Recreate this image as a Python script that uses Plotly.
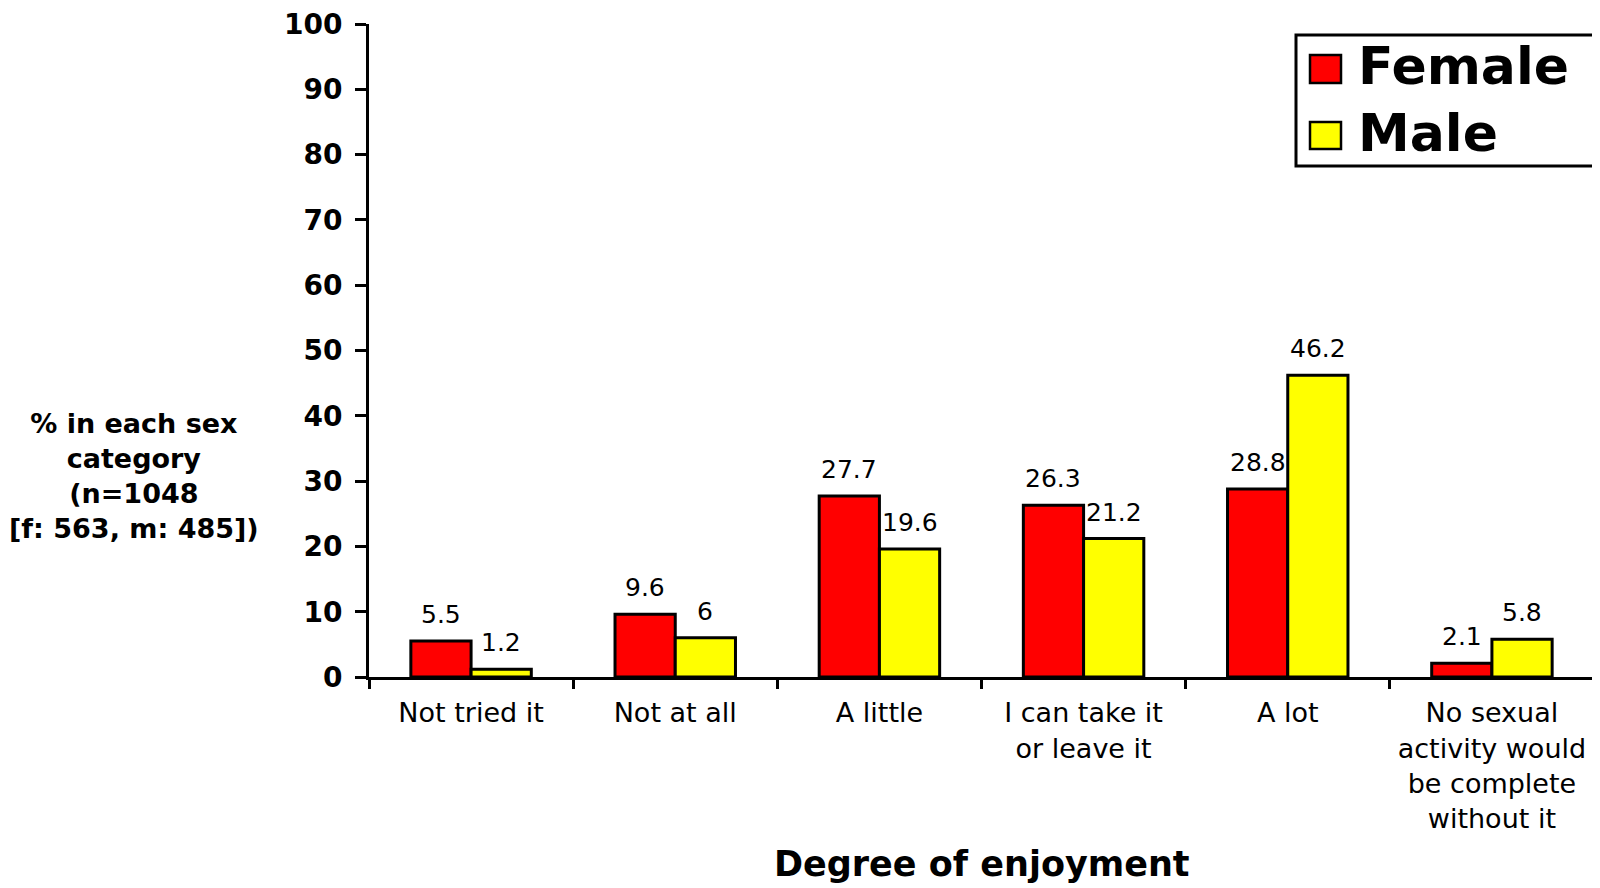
import plotly.graph_objects as go

categories = ["Not tried it", "Not at all", "A little", "I can take it<br>or leave it",
              "A lot", "No sexual<br>activity would<br>be complete<br>without it"]
female = [5.5, 9.6, 27.7, 26.3, 28.8, 2.1]
male = [1.2, 6, 19.6, 21.2, 46.2, 5.8]
series_names = ["Female", "Male"]
series_colors = ["#FF0000", "#FFFF00"]
y_ticks = list(range(0, 101, 10))

FONT = "DejaVu Sans"
OFF = 8  # default page body margin
W, H = 1600 - OFF, 888 - OFF
L, R, T, B = 369 - OFF, 6, 24 - OFF, 211
PW, PH = W - L - R, H - T - B


def px2x(px):
    return (px - OFF - L) / PW


def py2y(py):
    return (H - B - (py - OFF)) / PH


fig = go.Figure()
for name, vals, col in zip(series_names, [female, male], series_colors):
    fig.add_trace(go.Bar(
        x=categories, y=vals, name=name,
        marker=dict(color=col, line=dict(color="black", width=3)),
        showlegend=False, hoverinfo="x+y",
    ))

annotations = []
half_bar = PW / len(categories) * (1 - 0.41) / 2 / 2
for vals, shift in [(female, -half_bar), (male, half_bar)]:
    for c, v in zip(categories, vals):
        annotations.append(dict(
            x=c, y=v, xref="x", yref="y", text=f"{v:g}", showarrow=False,
            xshift=shift, yshift=10, yanchor="bottom", xanchor="center",
            font=dict(family=FONT, size=25, color="black"),
        ))

# axis titles
annotations.append(dict(
    x=px2x(134), y=py2y(476), xref="paper", yref="paper",
    text="<b>% in each sex<br>category<br>(n=1048<br>[f: 563, m: 485])</b>",
    showarrow=False, align="center", xanchor="center", yanchor="middle",
    font=dict(family=FONT, size=27, color="black"),
))
annotations.append(dict(
    x=px2x(982), y=py2y(864), xref="paper", yref="paper",
    text="<b>Degree of enjoyment</b>", showarrow=False,
    xanchor="center", yanchor="middle",
    font=dict(family=FONT, size=35, color="black"),
))

# legend (drawn manually to match the large swatches)
shapes = [
    dict(type="rect", xref="paper", yref="paper",
         x0=px2x(1296), x1=px2x(1594), y0=py2y(166), y1=py2y(35),
         line=dict(color="black", width=3), fillcolor="white"),
]
for name, col, (top, bot), cy in zip(series_names, series_colors,
                                      [(55, 83), (122, 149)], [66, 133]):
    shapes.append(dict(type="rect", xref="paper", yref="paper",
                       x0=px2x(1310), x1=px2x(1341), y0=py2y(bot), y1=py2y(top),
                       line=dict(color="black", width=2.5), fillcolor=col))
    annotations.append(dict(
        x=px2x(1356), y=py2y(cy), xref="paper", yref="paper",
        text=f"<b>{name}</b>", showarrow=False, xanchor="left", yanchor="middle",
        font=dict(family=FONT, size=52, color="black"),
    ))

fig.update_layout(
    width=W, height=H,
    margin=dict(l=L, r=R, t=T, b=B, autoexpand=False),
    paper_bgcolor="white", plot_bgcolor="white",
    barmode="group", bargap=0.41, bargroupgap=0,
    font=dict(family=FONT, color="black"),
    annotations=annotations, shapes=shapes,
    showlegend=False,
)
fig.update_xaxes(
    showline=True, linecolor="black", linewidth=3,
    ticks="outside", tickson="boundaries", ticklen=9, tickwidth=3, tickcolor="black",
    tickfont=dict(family=FONT, size=27, color="black"),
    ticklabelstandoff=10, showgrid=False, zeroline=False,
    ticklabeloverflow="allow",
)
fig.update_yaxes(
    range=[0, 100], tickvals=y_ticks, ticktext=[f"<b>{t}</b>" for t in y_ticks],
    showline=True, linecolor="black", linewidth=3,
    ticks="outside", ticklen=11, tickwidth=3, tickcolor="black",
    tickfont=dict(family=FONT, size=28, color="black"),
    ticklabelstandoff=7, showgrid=False, zeroline=False,
    ticklabeloverflow="allow",
)

fig.write_html("out.html")
